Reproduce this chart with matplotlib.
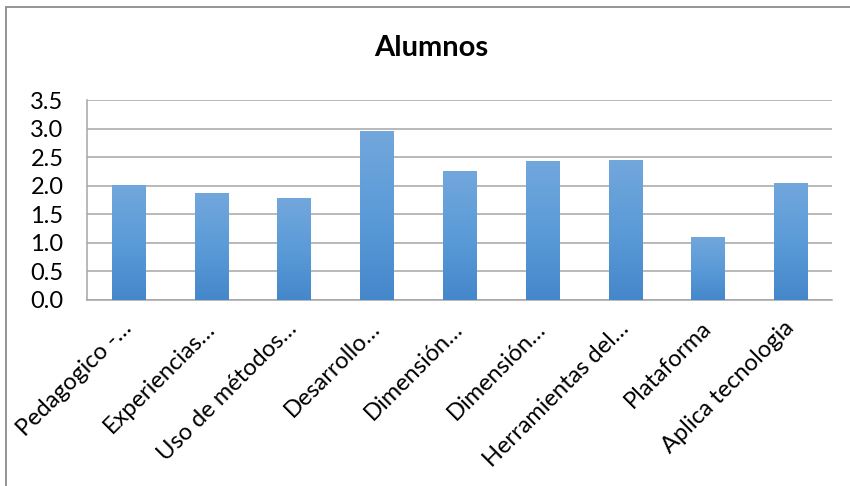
"""Gráfico de barras: valoración media de los alumnos por dimensión."""

import matplotlib

matplotlib.use("Agg")
import matplotlib.pyplot as plt
import numpy as np
from matplotlib.colors import LinearSegmentedColormap
from matplotlib.patches import Rectangle

TITLE = "Alumnos"
CATEGORIES = [
    "Pedagogico -…",
    "Experiencias…",
    "Uso de métodos…",
    "Desarrollo…",
    "Dimensión…",
    "Dimensión…",
    "Herramientas del…",
    "Plataforma",
    "Aplica tecnologia",
]
VALUES = [2.02, 1.87, 1.78, 2.95, 2.25, 2.43, 2.45, 1.11, 2.05]
Y_TICKS = [0.0, 0.5, 1.0, 1.5, 2.0, 2.5, 3.0, 3.5]

BAR_WIDTH = 0.4
GRID_COLOR = "#A6A6A6"
TEXT_COLOR = "#000000"
BAR_CMAP = LinearSegmentedColormap.from_list("excel_blue", ["#4587CB", "#5B9BD8", "#72A7DC"])

plt.rcParams["font.family"] = ["Lato", "DejaVu Sans"]


def draw_gradient_bars(ax, values):
    """Draw bars as plain patches and fill them with a vertical gradient."""

    bars = ax.bar(range(len(values)), values, width=BAR_WIDTH, color="none", edgecolor="none", zorder=3)
    gradient = np.linspace(0, 1, 256).reshape(-1, 1)
    for bar in bars:
        x0, y0 = bar.get_x(), bar.get_y()
        w, h = bar.get_width(), bar.get_height()
        img = ax.imshow(
            gradient,
            extent=(x0, x0 + w, y0, y0 + h),
            origin="lower",
            cmap=BAR_CMAP,
            aspect="auto",
            zorder=3,
        )
        img.set_clip_path(bar)
    return bars


fig = plt.figure(figsize=(8.5, 4.86), dpi=100)
ax = fig.add_axes([87 / 850, 1 - 300 / 486, (832 - 87) / 850, 200 / 486])

draw_gradient_bars(ax, VALUES)

ax.set_xlim(-0.5, len(CATEGORIES) - 0.5)
ax.set_ylim(0, 3.5)
ax.set_yticks(Y_TICKS)
ax.set_yticklabels([f"{v:.1f}" for v in Y_TICKS], fontsize=17, color=TEXT_COLOR)
ax.set_xticks(range(len(CATEGORIES)))
ax.set_xticklabels(
    CATEGORIES,
    rotation=45,
    ha="right",
    va="center",
    rotation_mode="anchor",
    fontsize=17,
    color=TEXT_COLOR,
)
ax.tick_params(axis="both", length=0)
ax.tick_params(axis="x", pad=18)
ax.tick_params(axis="y", pad=17)

ax.grid(axis="y", color=GRID_COLOR, linewidth=1.1, zorder=0)
ax.set_axisbelow(True)
for side in ["top", "right"]:
    ax.spines[side].set_visible(False)
ax.spines["left"].set_color(GRID_COLOR)
ax.spines["bottom"].set_color(GRID_COLOR)
ax.spines["left"].set_linewidth(1.1)
ax.spines["bottom"].set_linewidth(1.1)

fig.text(431 / 850, 1 - 48 / 486, TITLE, ha="center", va="center", fontsize=21, fontweight="bold")

# marco gris del área del gráfico (sale por la derecha y por abajo)
fig.patches.append(
    Rectangle(
        (6 / 850, -0.05),
        1.0,
        1 - 7 / 486 + 0.05,
        transform=fig.transFigure,
        fill=False,
        edgecolor="#8C8C8C",
        linewidth=1.3,
    )
)

fig.savefig("out.png", dpi=100, facecolor="white")
